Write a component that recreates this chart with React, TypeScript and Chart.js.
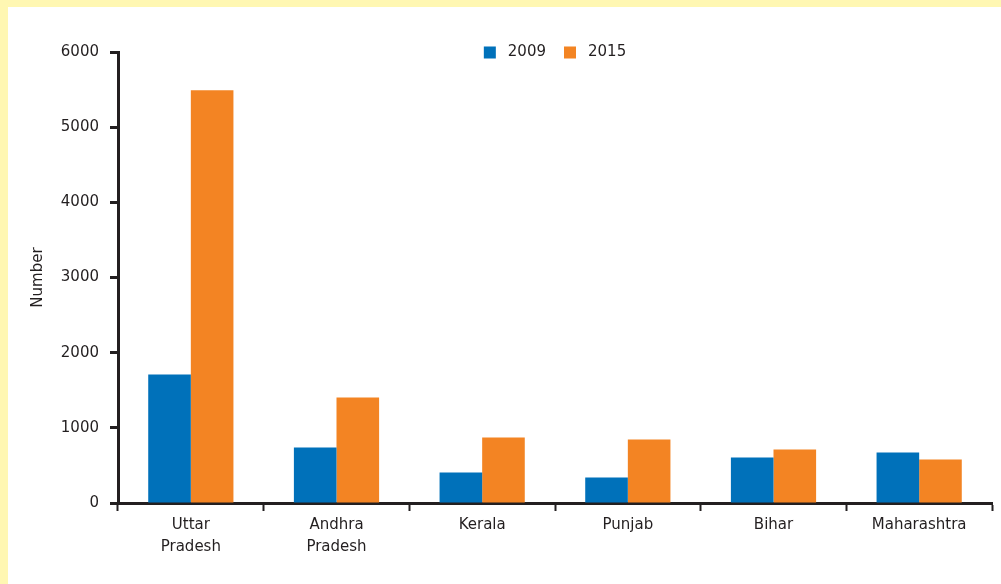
import React, { useEffect, useRef } from "react";
import { Chart, registerables } from "chart.js";

Chart.register(...registerables);

const categories: (string | string[])[] = [
  ["Uttar", "Pradesh"],
  ["Andhra", "Pradesh"],
  "Kerala",
  "Punjab",
  "Bihar",
  "Maharashtra",
];
const seriesNames = ["2009", "2015"];
const values2009 = [1710, 740, 405, 340, 606, 673];
const values2015 = [5490, 1405, 872, 846, 713, 579];
const yTicks = [0, 1000, 2000, 3000, 4000, 5000, 6000];

const BLUE = "#0071BA";
const ORANGE = "#F38423";
const INK = "#231F20";
const FONT = "'DejaVu Sans', sans-serif";

const legendPlugin = {
  id: "customLegend",
  afterDraw(chart: any) {
    const ctx = chart.ctx;
    const items = chart.data.datasets.map((d: any) => ({ label: d.label, color: d.backgroundColor }));
    ctx.save();
    ctx.font = `15px ${FONT}`;
    ctx.textBaseline = "middle";
    const box = 12;
    const gapBoxText = 12;
    const gapItems = 18;
    const widths = items.map((it: any) => box + gapBoxText + ctx.measureText(it.label).width);
    const total = widths.reduce((a: number, b: number) => a + b, 0) + gapItems * (items.length - 1);
    const cx = (chart.chartArea.left + chart.chartArea.right) / 2;
    let x = cx - total / 2;
    const y = 52.5;
    items.forEach((it: any, i: number) => {
      ctx.fillStyle = it.color;
      ctx.fillRect(x, y - box / 2, box, box);
      ctx.fillStyle = INK;
      ctx.textAlign = "left";
      ctx.fillText(it.label, x + box + gapBoxText, y);
      x += widths[i] + gapItems;
    });
    ctx.restore();
  },
};

export default function App() {
  const ref = useRef<HTMLCanvasElement | null>(null);
  useEffect(() => {
    if (!ref.current) return;
    const chart = new Chart(ref.current, {
      type: "bar",
      data: {
        labels: categories,
        datasets: [
          { label: seriesNames[0], data: values2009, backgroundColor: BLUE, borderWidth: 0 },
          { label: seriesNames[1], data: values2015, backgroundColor: ORANGE, borderWidth: 0 },
        ],
      },
      plugins: [legendPlugin],
      options: {
        responsive: false,
        animation: false,
        layout: { padding: { top: 52, right: 9, left: 0, bottom: 0 } },
        plugins: {
          legend: { display: false },
          tooltip: { enabled: false },
        },
        datasets: {
          bar: { barPercentage: 1, categoryPercentage: 0.585 },
        },
        scales: {
          x: {
            z: 1,
            afterFit(scale: any) {
              scale.height = 81;
            },
            grid: {
              display: true,
              offset: true,
              drawOnChartArea: false,
              drawTicks: true,
              tickLength: 8,
              tickWidth: 2,
              tickColor: INK,
            },
            border: { display: true, color: INK, width: 3 },
            ticks: {
              color: INK,
              padding: 3,
              maxRotation: 0,
              autoSkip: false,
              font: { family: FONT, size: 15, lineHeight: 1.45 },
            },
          },
          y: {
            z: 1,
            min: 0,
            max: 6000,
            afterFit(scale: any) {
              scale.width = 118;
            },
            afterBuildTicks(scale: any) {
              scale.ticks = yTicks.map((v) => ({ value: v }));
            },
            grid: {
              display: true,
              drawOnChartArea: false,
              drawTicks: true,
              tickLength: 8,
              tickWidth: 3,
              tickColor: INK,
            },
            border: { display: true, color: INK, width: 3 },
            ticks: {
              color: INK,
              padding: 11,
              font: { family: FONT, size: 15 },
              callback: (v: any) => String(v),
            },
            title: {
              display: true,
              text: "Number",
              color: INK,
              padding: { top: 29, bottom: 0 },
              font: { family: FONT, size: 15 },
            },
          },
        },
      },
    });
    return () => chart.destroy();
  }, []);

  return (
    <div
      style={{
        position: "fixed",
        left: 0,
        top: 0,
        width: 1001,
        height: 584,
        background: "#FFF7B2",
        overflow: "hidden",
      }}
    >
      <div
        style={{
          position: "absolute",
          left: 8,
          top: 7,
          right: 0,
          bottom: 0,
          background: "#FFFFFF",
        }}
      />
      <canvas
        ref={ref}
        width={1001}
        height={584}
        style={{ position: "absolute", left: 0, top: 0, width: 1001, height: 584 }}
      />
    </div>
  );
}
